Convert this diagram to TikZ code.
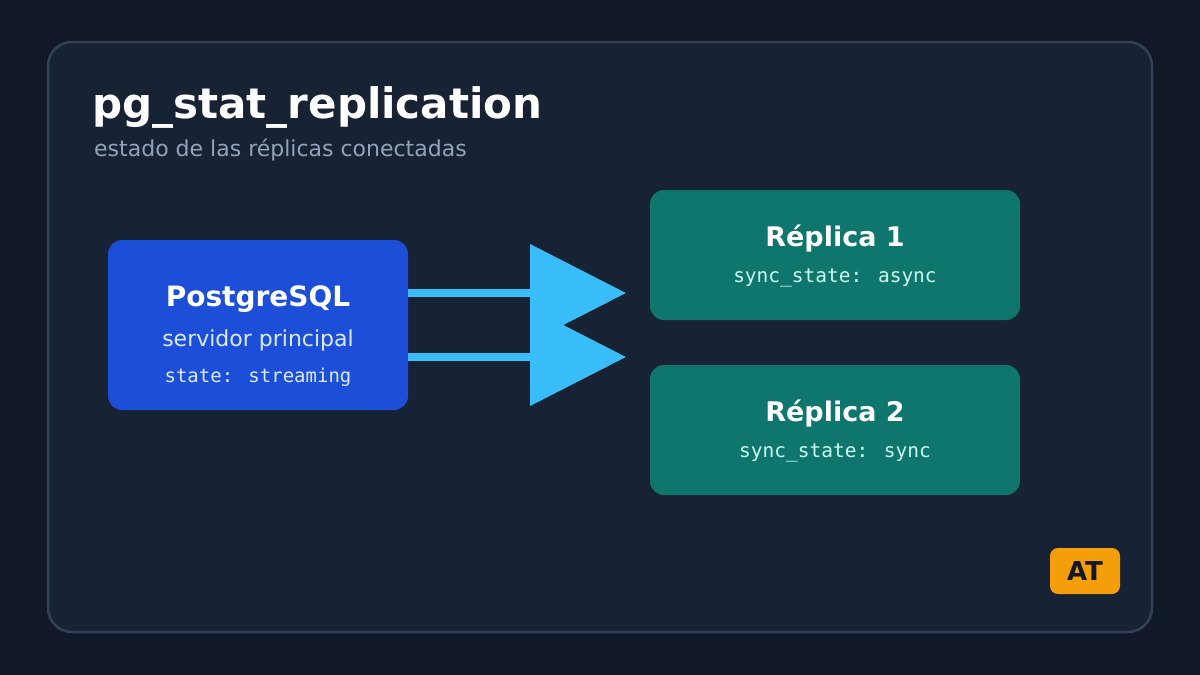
\documentclass[tikz,border=0pt]{standalone}
\usepackage{fontspec}
\setmainfont{DejaVu Sans}
\newfontfamily\monofont{DejaVu Sans Mono}
\usetikzlibrary{arrows.meta}
\definecolor{bgdark}{HTML}{111827}
\definecolor{panel}{HTML}{182235}
\definecolor{panelline}{HTML}{334155}
\definecolor{primblue}{HTML}{1D4ED8}
\definecolor{replteal}{HTML}{0F766E}
\definecolor{flowblue}{HTML}{38BDF8}
\definecolor{badge}{HTML}{F59E0B}
\definecolor{subgray}{HTML}{94A3B8}
\definecolor{lightblue}{HTML}{DBEAFE}
\definecolor{lightteal}{HTML}{CCFBF1}
\tikzset{
  box/.style={rounded corners=14pt, inner sep=0pt, align=center, text=white},
  flow/.style={draw=flowblue, line width=8pt, -{Triangle[length=96pt 0, width=96pt 0]}}
}
\begin{document}
\begin{tikzpicture}[x=1pt,y=-1pt]
% background and panel
\fill[bgdark] (0,0) rectangle (1200,675);
\draw[panelline, fill=panel, line width=2.5pt, rounded corners=24pt] (48,42) rectangle (1152,632);
\node[anchor=base west, text=white, font=\fontsize{42}{46}\selectfont\bfseries, inner sep=0pt] (title) at (92,118) {pg\_stat\_replication};
\node[anchor=base west, text=subgray, font=\fontsize{22}{24}\selectfont, inner sep=0pt] (subtitle) at (94,156) {estado de las réplicas conectadas};

% primary server
\fill[primblue, rounded corners=14pt] (108,240) rectangle (408,410);
\node[box, minimum width=300pt, minimum height=170pt] (primary) at (258,325) {};
\node[text=white, font=\fontsize{28}{30}\selectfont\bfseries] at (258,299) {PostgreSQL};
\node[text=lightblue, font=\fontsize{22}{24}\selectfont] at (258,340) {servidor principal};
\node[text=lightblue, font=\monofont\fontsize{19}{22}\selectfont] at (258,377) {state: streaming};

% replicas
\fill[replteal, rounded corners=14pt] (650,190) rectangle (1020,320);
\node[box, minimum width=370pt, minimum height=130pt] (rep1) at (835,255) {};
\node[text=white, font=\fontsize{27}{30}\selectfont\bfseries] at (835,239) {Réplica 1};
\node[text=lightteal, font=\monofont\fontsize{19.5}{22}\selectfont] at (835,278) {sync\_state: async};

\fill[replteal, rounded corners=14pt] (650,365) rectangle (1020,495);
\node[box, minimum width=370pt, minimum height=130pt] (rep2) at (835,430) {};
\node[text=white, font=\fontsize{27}{30}\selectfont\bfseries] at (835,414) {Réplica 2};
\node[text=lightteal, font=\monofont\fontsize{19.5}{22}\selectfont] at (835,453) {sync\_state: sync};

% replication streams
\coordinate (to1) at (626,293);
\coordinate (to2) at (626,357);
\draw[flow] (primary.east |- to1) -- (to1);
\draw[flow] (primary.east |- to2) -- (to2);

% badge
\node[fill=badge, rounded corners=8pt, minimum width=70pt, minimum height=46pt, inner sep=0pt, text=bgdark, font=\fontsize{26}{28}\selectfont\bfseries] (badge) at (1085,571) {AT};
\end{tikzpicture}
\end{document}
